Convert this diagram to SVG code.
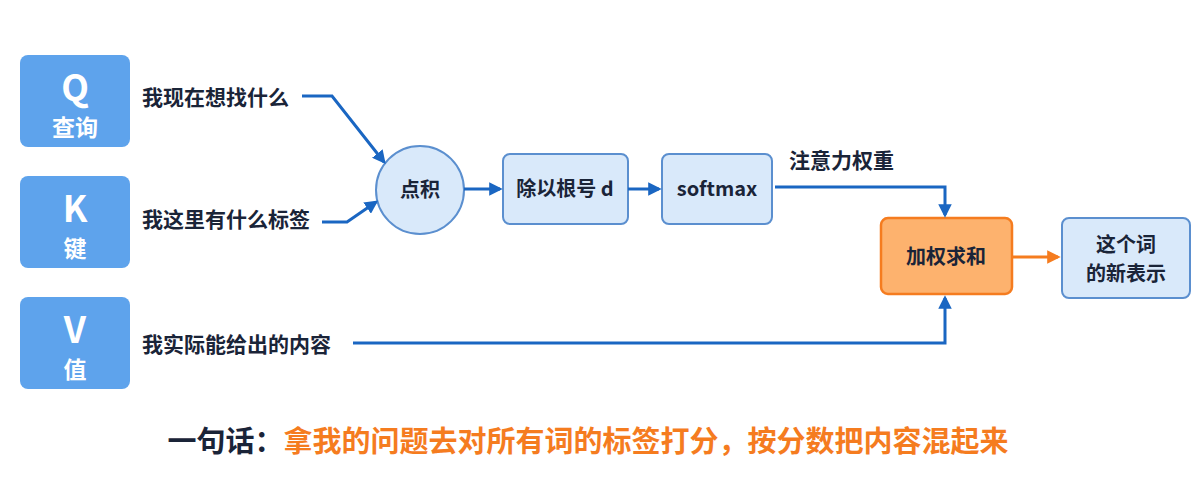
<svg xmlns="http://www.w3.org/2000/svg" width="1200" height="500" viewBox="0 0 1200 500">
<defs>
<marker id="ab" viewBox="0 0 10 10" refX="8" refY="5" markerWidth="4.5" markerHeight="4.5" orient="auto"><path d="M0,0L10,5L0,10z" fill="#1a66c2"/></marker>
<marker id="ao" viewBox="0 0 10 10" refX="8" refY="5" markerWidth="4.5" markerHeight="4.5" orient="auto"><path d="M0,0L10,5L0,10z" fill="#f57c1f"/></marker>
<style>
text{font-family:"Noto Sans CJK SC","Noto Sans",sans-serif;font-weight:bold}
.in{fill:#5ea3ec}
.w{fill:#fff;text-anchor:middle}
.lb{fill:#1a2438;font-size:21px}
.bx{fill:#d9e9fa;stroke:#5b8fcf;stroke-width:2}
.c{stroke:#1a66c2;stroke-width:3;fill:none;marker-end:url(#ab)}
.t{fill:#1a2438;font-size:20px;text-anchor:middle}
</style>
</defs>
<rect width="1200" height="500" fill="#fff"/>
<g id="Q"><rect class="in" x="20" y="55" width="110" height="92" rx="8"/><text class="w" x="75" y="101" font-size="36">Q</text><text class="w" x="75" y="136" font-size="23">查询</text></g>
<g id="K"><rect class="in" x="20" y="176" width="110" height="92" rx="8"/><text class="w" x="75" y="222" font-size="36">K</text><text class="w" x="75" y="257" font-size="23">键</text></g>
<g id="V"><rect class="in" x="20" y="297" width="110" height="92" rx="8"/><text class="w" x="75" y="343" font-size="36">V</text><text class="w" x="75" y="378" font-size="23">值</text></g>
<g id="labels">
<text class="lb" x="142" y="105">我现在想找什么</text>
<text class="lb" x="142" y="227">我这里有什么标签</text>
<text class="lb" x="142" y="352">我实际能给出的内容</text>
<text class="lb" x="789" y="168" font-size="20">注意力权重</text>
</g>
<g id="dot"><circle class="bx" cx="420" cy="190" r="44"/><text class="t" x="420" y="197" font-size="22">点积</text></g>
<g id="scale"><rect class="bx" x="503" y="154" width="125" height="70" rx="7"/><text class="t" x="565" y="196">除以根号 d</text></g>
<g id="softmax"><rect class="bx" x="662" y="154" width="110" height="70" rx="7"/><text class="t" x="717" y="196">softmax</text></g>
<g id="sum"><rect x="881" y="218" width="131" height="76" rx="7" fill="#fdb26e" stroke="#f57c1f" stroke-width="2.5"/><text class="t" x="946" y="264" font-size="24">加权求和</text></g>
<g id="out"><rect class="bx" x="1062" y="218" width="128" height="80" rx="7"/><text class="t" x="1126" y="252" font-size="21">这个词</text><text class="t" x="1126" y="281" font-size="21">的新表示</text></g>
<g id="connectors">
<path class="c" d="M302,96H332L384,162"/>
<path class="c" d="M322,222H347L376,202"/>
<path class="c" d="M464,189H500"/>
<path class="c" d="M628,189H659"/>
<path class="c" d="M775,187H945V215"/>
<path class="c" d="M353,343H945V298"/>
<path d="M1012,257H1058" stroke="#f57c1f" stroke-width="3" fill="none" marker-end="url(#ao)"/>
</g>
<text x="588" y="452" font-size="29" text-anchor="middle"><tspan fill="#1a2438">一句话：</tspan><tspan fill="#f57c1f">拿我的问题去对所有词的标签打分，按分数把内容混起来</tspan></text>
</svg>
